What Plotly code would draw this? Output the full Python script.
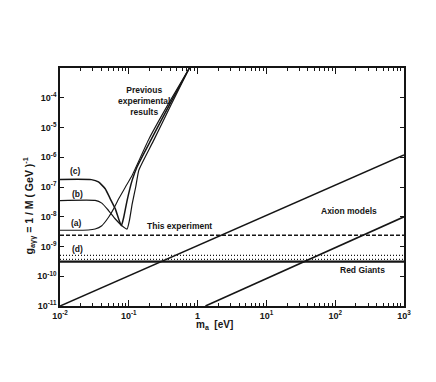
import plotly.graph_objects as go

# previous experimental results, curves (a), (b), (c)  [m in eV, g in GeV^-1]
mass_a = [0.01, 0.0258, 0.0324, 0.0405, 0.0508, 0.0601, 0.0713, 0.0893, 0.112, 0.197, 0.387, 0.76]
g_a = [3.5e-9, 3.57e-9, 3.86e-9, 5.0e-9, 9.6e-9, 1.84e-8, 4.0e-8, 1.0e-7, 2.5e-7, 4.2e-6, 7.0e-5, 1.0e-3]

mass_b = [0.01, 0.0324, 0.0405, 0.0508, 0.0637, 0.0796, 0.0944, 0.102, 0.112, 0.126, 0.140, 0.225, 0.415, 0.76]
g_b = [3.5e-8, 3.54e-8, 2.87e-8, 1.62e-8, 8.4e-9, 5.0e-9, 3.86e-9, 7.4e-9, 2.7e-8, 1.0e-7, 3.7e-7, 3.35e-6, 6.0e-5, 1.0e-3]

mass_c = [0.01, 0.0286, 0.0362, 0.0454, 0.0538, 0.0637, 0.0713, 0.0781, 0.0844, 0.0944, 0.112, 0.132, 0.211, 0.40, 0.76]
g_c = [1.8e-7, 1.77e-7, 1.48e-7, 8.75e-8, 4.0e-8, 1.84e-8, 8.4e-9, 5.0e-9, 9.6e-9, 3.5e-8, 1.7e-7, 4.8e-7, 3.9e-6, 6.5e-5, 1.0e-3]

# horizontal limits
mass_span = [0.01, 1000]
g_this_exp = [2.4e-9, 2.4e-9]
g_d = [5.0e-10, 5.0e-10]
g_d2 = [3.7e-10, 3.7e-10]
g_red_giants = [3.1e-10, 3.1e-10]

# axion model lines
mass_axion_hi = [0.01, 1000]
g_axion_hi = [1e-11, 1.2e-6]
mass_axion_lo = [1.3, 1000]
g_axion_lo = [1e-11, 1.0e-8]

x_ticks = [0.01, 0.1, 1, 10, 100, 1000]
x_ticktext = ["10<sup>-2</sup>", "10<sup>-1</sup>", "1", "10<sup>1</sup>", "10<sup>2</sup>", "10<sup>3</sup>"]
y_ticks = [1e-11, 1e-10, 1e-9, 1e-8, 1e-7, 1e-6, 1e-5, 1e-4]
y_ticktext = ["10<sup>-11</sup>", "10<sup>-10</sup>", "10<sup>-9</sup>", "10<sup>-8</sup>",
              "10<sup>-7</sup>", "10<sup>-6</sup>", "10<sup>-5</sup>", "10<sup>-4</sup>"]

ink = "#151515"
font = "Liberation Sans"

fig = go.Figure()

def add_line(x, y, width, dash="solid", spline=False):
    fig.add_trace(go.Scatter(
        x=x, y=y, mode="lines",
        line=dict(color=ink, width=width, dash=dash,
                  shape="spline" if spline else "linear", smoothing=0.45),
        hoverinfo="skip"))

add_line(mass_a, g_a, 1.1, spline=True)
add_line(mass_b, g_b, 1.2, spline=True)
add_line(mass_c, g_c, 1.5, spline=True)
add_line(mass_span, g_this_exp, 1.5, dash="4px,2px")
add_line(mass_span, g_d, 1.3, dash="1px,2px")
add_line(mass_span, g_d2, 1.3, dash="1px,2px")
add_line(mass_span, g_red_giants, 2.4)
add_line(mass_axion_hi, g_axion_hi, 1.6)
add_line(mass_axion_lo, g_axion_lo, 1.6)

minor_x = [k * 10 ** e for e in range(-2, 3) for k in range(2, 10)]

fig.update_xaxes(
    type="log", range=[-2, 3],
    tickvals=x_ticks, ticktext=["<b>%s</b>" % t for t in x_ticktext],
    ticks="inside", ticklen=6, tickwidth=1, tickcolor=ink,
    minor=dict(tickvals=minor_x, ticks="inside", ticklen=3, tickcolor=ink, showgrid=False),
    showline=True, linecolor=ink, linewidth=1.5, mirror="allticks",
    showgrid=False, zeroline=False,
    tickfont=dict(family=font, size=9, color=ink),
)
fig.update_yaxes(
    type="log", range=[-11, -3],
    tickvals=y_ticks, ticktext=["<b>%s</b>" % t for t in y_ticktext],
    ticks="inside", ticklen=4, tickwidth=1, tickcolor=ink,
    showline=True, linecolor=ink, linewidth=1.5, mirror="allticks",
    showgrid=False, zeroline=False,
    tickfont=dict(family=font, size=9, color=ink),
)

labels = [
    (-0.78, -4.12, "<b>Previous<br>experimental<br>results</b>"),
    (-0.26, -8.30, "<b>This experiment</b>"),
    (2.20, -7.80, "<b>Axion models</b>"),
    (2.40, -9.78, "<b>Red Giants</b>"),
    (-1.78, -6.47, "<b>(c)</b>"),
    (-1.74, -7.25, "<b>(b)</b>"),
    (-1.76, -8.20, "<b>(a)</b>"),
    (-1.74, -9.10, "<b>(d)</b>"),
]
for lx, ly, txt in labels:
    fig.add_annotation(x=lx, y=ly, xref="x", yref="y", text=txt, showarrow=False,
                       font=dict(family=font, size=8.5, color=ink), align="center")

fig.add_annotation(x=-0.118, y=0.42, xref="paper", yref="paper", textangle=-90,
                   text="<b>g<sub>aγγ</sub> = 1 / M ( GeV )<sup>-1</sup></b>", showarrow=False,
                   font=dict(family=font, size=10.5, color=ink))
fig.add_annotation(x=0.45, y=-0.115, xref="paper", yref="paper",
                   text="<b>m<sub>a</sub>  [eV]</b>", showarrow=False,
                   font=dict(family=font, size=10, color=ink))

fig.update_layout(
    width=436, height=382,
    margin=dict(l=52, r=40, t=60, b=84),
    paper_bgcolor="white", plot_bgcolor="white",
    showlegend=False,
)

fig.write_html("out.html")
